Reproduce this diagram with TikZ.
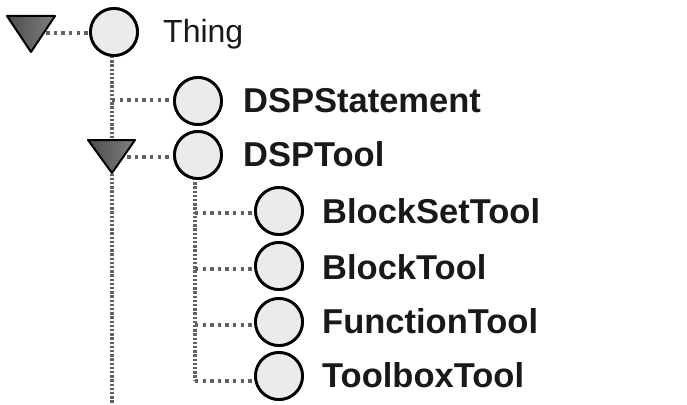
\documentclass[tikz,border=0pt]{standalone}
\usepackage{fontspec}
\setmainfont{Liberation Sans}
\begin{document}
\begin{tikzpicture}[x=1pt,y=-1pt,
  ball/.style={circle,draw=black,line width=2.8pt,fill=black!8,minimum size=47pt,inner sep=0pt},
  vdots/.style={draw=black!62,line width=3.6pt,dash pattern=on 2.4pt off 1.8pt},
  hdots/.style={draw=black!62,line width=3.4pt,dash pattern=on 3.4pt off 4.2pt},
  tri/.style={draw=black,line width=2pt,line join=round,left color=black!70,right color=black!50},
  lab/.style={anchor=base west,inner sep=0pt,text=black!90,font=\fontsize{32}{32}\selectfont},
  blab/.style={lab,font=\fontsize{34.5}{34.5}\selectfont\bfseries}]
\useasboundingbox (0,0) rectangle (687,404);
\fill[white] (0,0) rectangle (687,404);
% nodes
\node[ball] (thing) at (114,32) {};
\node[ball] (stmt) at (198,101) {};
\node[ball] (tool) at (198,155) {};
\node[ball] (bst) at (279,211) {};
\node[ball] (bt) at (279,266) {};
\node[ball] (ft) at (279,322) {};
\node[ball] (tbt) at (279,376) {};
\node[lab] (lthing) at (163,43) {Thing};
\node[blab] (lstmt) at (243,112) {DSPStatement};
\node[blab] (ltool) at (243,166) {DSPTool};
\node[blab] (lbst) at (322,223) {BlockSetTool};
\node[blab] (lbt) at (322,279) {BlockTool};
\node[blab] (lft) at (322,333) {FunctionTool};
\node[blab] (ltbt) at (322,387) {ToolboxTool};
% coordinates
\coordinate (tri0) at (31,33);
\coordinate (tri1) at (112,157);
\coordinate (v0top) at (112,56);
\coordinate (v0bot) at (112,404);
\coordinate (j0a) at (112,100);
\coordinate (v1top) at (195,178);
\coordinate (j1a) at (195,213);
\coordinate (j1b) at (195,269);
\coordinate (j1c) at (195,325);
\coordinate (j1d) at (195,381);
% connectors
\draw[vdots] (v0top) -- (v0bot);
\draw[vdots] (v1top) -- (j1d);
\draw[hdots] (tri0) -- (thing.west |- tri0);
\draw[hdots] (j0a) -- (stmt.west |- j0a);
\draw[hdots] (tri1) -- (tool.west |- tri1);
\draw[hdots] (j1a) -- (bst.west |- j1a);
\draw[hdots] (j1b) -- (bt.west |- j1b);
\draw[hdots] (j1c) -- (ft.west |- j1c);
\draw[hdots] (j1d) -- (tbt.west |- j1d);
% triangles
\path[tri] (7,16) -- (55,16) -- (31,52) -- cycle;
\path[tri] (88,140) -- (135,140) -- (112,173) -- cycle;
% redraw balls on top
\foreach \n in {thing,stmt,tool,bst,bt,ft,tbt}{\node[ball] at (\n) {};}
\end{tikzpicture}
\end{document}
